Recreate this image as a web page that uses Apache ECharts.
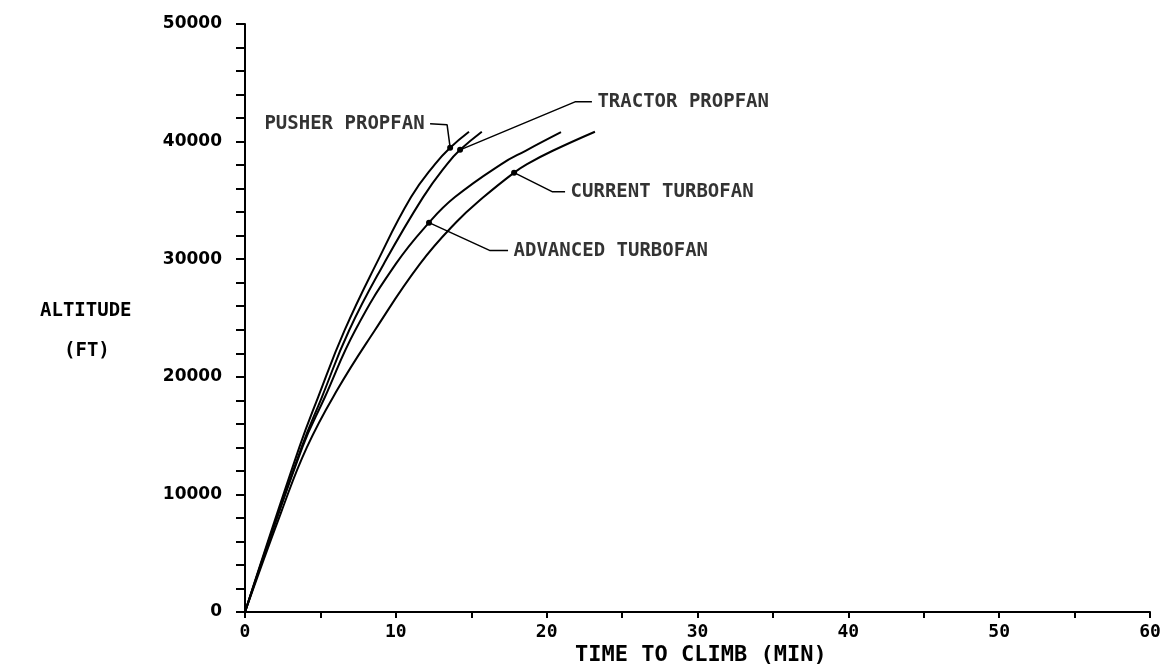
<!DOCTYPE html>
<html>
<head>
<meta charset="utf-8">
<script src="https://cdn.jsdelivr.net/npm/echarts@6/dist/echarts.min.js"></script>
<style>
  html, body { margin: 0; padding: 0; background: #fff; }
  #chart { width: 1165px; height: 668px; }
</style>
</head>
<body>
<div id="chart"></div>
<script>
// Time to climb vs altitude, four engine configurations

const xTicks = [0, 10, 20, 30, 40, 50, 60];
const yTicks = [0, 10000, 20000, 30000, 40000, 50000];

// [minutes, feet]
const pusherPropfan = [[0, 0], [3.6, 14000], [4.85, 18280], [6.6, 23940], [8.7, 29600],
    [11.0, 35260], [12.6, 38090], [13.6, 39480], [14.85, 40840]];
const tractorPropfan = [[0, 0], [3.75, 14000], [5.1, 18280], [6.9, 23940], [9.2, 29600],
    [11.8, 35260], [13.4, 38090], [14.26, 39300], [15.7, 40840]];
const advancedTurbofan = [[0, 0], [3.8, 14000], [5.3, 18280], [7.3, 23940], [10.0, 29600],
    [12.2, 33110], [13.9, 35260], [17.0, 38090], [18.6, 39220], [20.95, 40800]];
const currentTurbofan = [[0, 0], [2.4, 8500], [4.1, 14000], [6.1, 18850], [8.6, 23940], [11.6, 29600],
    [14.0, 33140], [15.8, 35260], [17.84, 37360], [18.7, 38090], [20.4, 39220], [23.2, 40840]];

// leader lines: [marker on curve, elbow, end of tail]
const pusherLeader = [[13.6, 39480], [13.4, 41430], [12.27, 41520]];
const tractorLeader = [[14.26, 39300], [21.88, 43380], [23.0, 43380]];
const currentLeader = [[17.84, 37360], [20.36, 35740], [21.22, 35740]];
const advancedLeader = [[12.2, 33110], [16.25, 30730], [17.44, 30730]];

const labelFont = '"DejaVu Sans Mono", monospace';

function curve(name, data) {
    return {
        name: name,
        type: 'line',
        data: data,
        smooth: 0.45,
        showSymbol: false,
        silent: true,
        lineStyle: { color: '#000', width: 2 }
    };
}

function leader(name, data) {
    return {
        name: name + ' leader',
        type: 'line',
        data: data.map((p, i) => ({
            value: p,
            symbol: i === 0 ? 'circle' : 'none',
            symbolSize: 6
        })),
        silent: true,
        itemStyle: { color: '#000' },
        lineStyle: { color: '#000', width: 1.5 }
    };
}

// one text per leader tail, hung on an invisible point
function tailLabel(name, data, side) {
    return {
        value: data[data.length - 1],
        label: {
            show: true,
            position: side,
            distance: 5,
            formatter: name,
            color: '#000',
            fontFamily: labelFont,
            fontWeight: 'bold',
            fontSize: 19
        }
    };
}

const chart = echarts.init(document.getElementById('chart'));

chart.setOption({
    backgroundColor: '#fff',
    animation: false,
    grid: { left: 245, right: 15, top: 24, bottom: 56 },
    xAxis: {
        type: 'value',
        min: xTicks[0],
        max: xTicks[xTicks.length - 1],
        interval: xTicks[1] - xTicks[0],
        axisLine: { lineStyle: { color: '#000', width: 2 } },
        axisTick: { show: true, length: 6, lineStyle: { color: '#000', width: 2 } },
        minorTick: { show: true, splitNumber: 2, length: 6, lineStyle: { color: '#000', width: 2 } },
        splitLine: { show: false },
        axisLabel: { color: '#000', fontFamily: labelFont, fontWeight: 'bold', fontSize: 18, margin: 11 }
    },
    yAxis: {
        type: 'value',
        min: yTicks[0],
        max: yTicks[yTicks.length - 1],
        interval: yTicks[1] - yTicks[0],
        axisLine: { show: true, lineStyle: { color: '#000', width: 2 } },
        axisTick: { show: true, length: 9, lineStyle: { color: '#000', width: 2 } },
        minorTick: { show: true, splitNumber: 5, length: 9, lineStyle: { color: '#000', width: 2 } },
        splitLine: { show: false },
        axisLabel: {
            color: '#000', fontFamily: '"DejaVu Sans"', fontWeight: 'bold', fontSize: 17, margin: 23,
            formatter: v => String(v)
        }
    },
    graphic: [
        {
            type: 'text', left: 40, top: 302,
            style: { text: 'ALTITUDE', font: 'bold 19px "DejaVu Sans Mono"', fill: '#000' }
        },
        {
            type: 'text', left: 64, top: 342,
            style: { text: '(FT)', font: 'bold 19px "DejaVu Sans Mono"', fill: '#000' }
        },
        {
            type: 'text', left: 575, top: 644,
            style: { text: 'TIME TO CLIMB (MIN)', font: 'bold 22px "DejaVu Sans Mono"', fill: '#000' }
        }
    ],
    series: [
        curve('PUSHER PROPFAN', pusherPropfan),
        curve('TRACTOR PROPFAN', tractorPropfan),
        curve('ADVANCED TURBOFAN', advancedTurbofan),
        curve('CURRENT TURBOFAN', currentTurbofan),
        leader('PUSHER PROPFAN', pusherLeader),
        leader('TRACTOR PROPFAN', tractorLeader),
        leader('CURRENT TURBOFAN', currentLeader),
        leader('ADVANCED TURBOFAN', advancedLeader),
        {
            name: 'labels',
            type: 'scatter',
            silent: true,
            symbolSize: 1,
            itemStyle: { color: 'rgba(0,0,0,0)' },
            data: [
                tailLabel('PUSHER PROPFAN', pusherLeader, 'left'),
                tailLabel('TRACTOR PROPFAN', tractorLeader, 'right'),
                tailLabel('CURRENT TURBOFAN', currentLeader, 'right'),
                tailLabel('ADVANCED TURBOFAN', advancedLeader, 'right')
            ]
        }
    ]
});
</script>
</body>
</html>
